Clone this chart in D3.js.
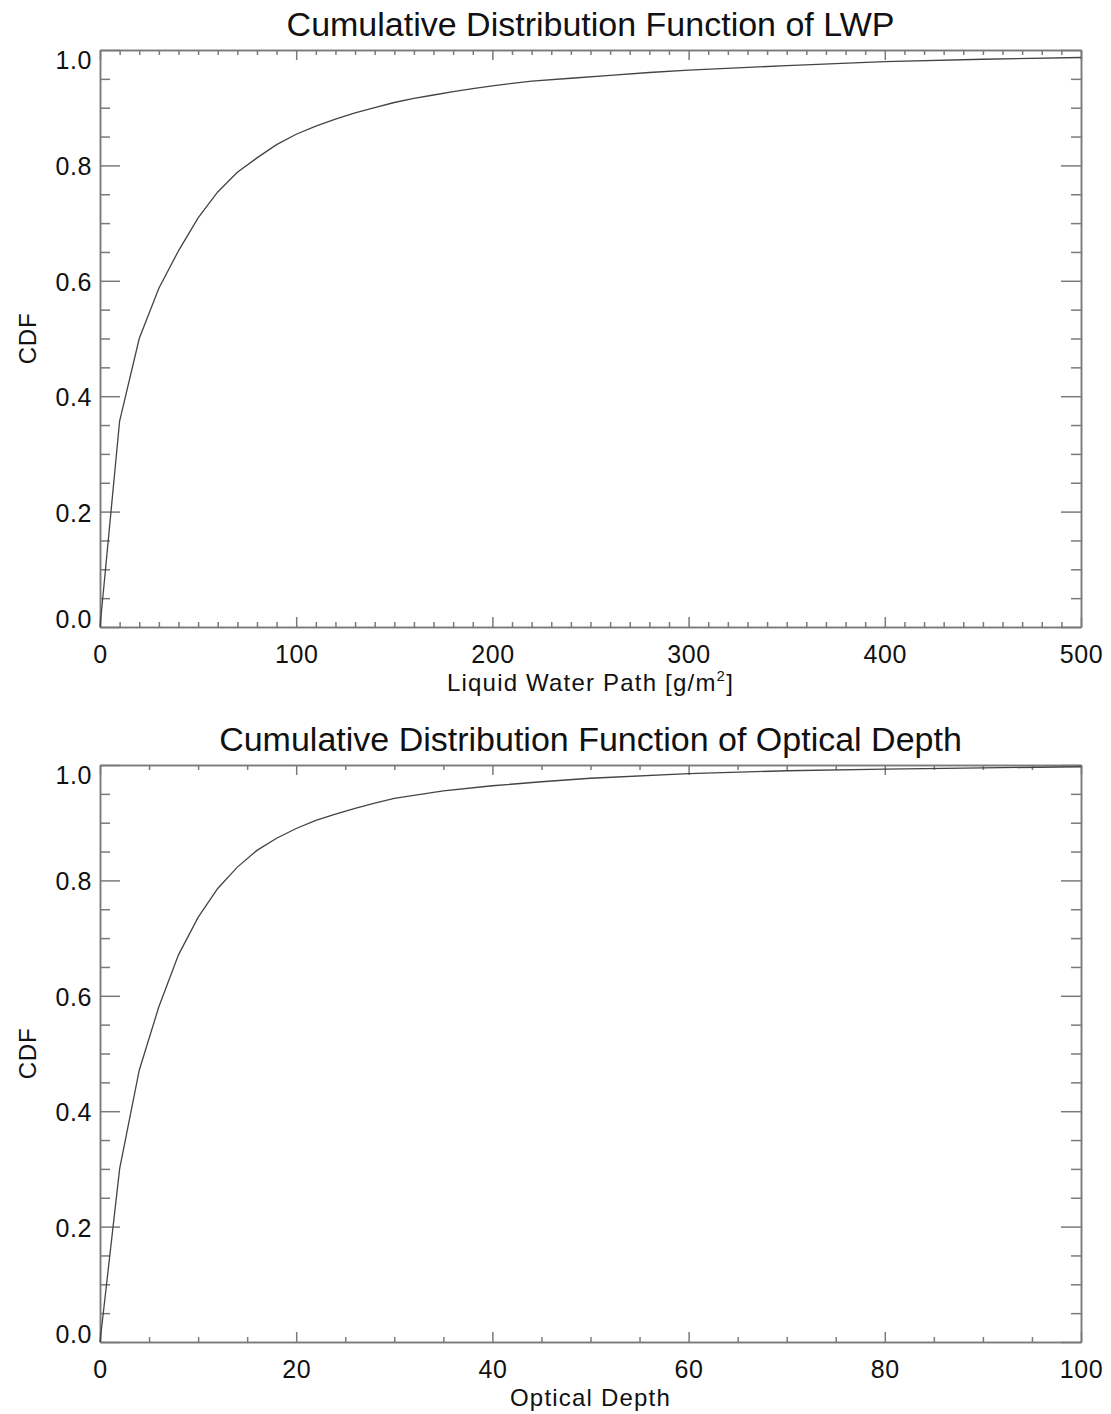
<!DOCTYPE html>
<html>
<head>
<meta charset="utf-8">
<script src="https://cdn.jsdelivr.net/npm/d3@7"></script>
<style>
  body { margin: 0; background: #fff; }
  text { font-family: "Liberation Sans", Arial, Helvetica, sans-serif; fill: #111; }
</style>
</head>
<body>
<div id="chart"></div>
<script>
// LWP cumulative distribution (g/m2 vs CDF)
const lwpValues = [0, 10, 20, 30, 40, 50, 60, 70, 80, 90, 100, 110, 120, 130, 140, 150,
  160, 170, 180, 190, 200, 220, 240, 260, 280, 300, 350, 400, 450, 500];
const lwpCdf = [0, 0.357, 0.500, 0.587, 0.652, 0.709, 0.754, 0.788, 0.813, 0.836, 0.854,
  0.868, 0.880, 0.891, 0.900, 0.909, 0.916, 0.922, 0.928, 0.933, 0.938, 0.946, 0.951,
  0.956, 0.961, 0.965, 0.973, 0.980, 0.984, 0.987];

// optical depth cumulative distribution
const tauValues = [0, 2, 4, 6, 8, 10, 12, 14, 16, 18, 20, 22, 24, 26, 28, 30, 35, 40, 45,
  50, 60, 70, 80, 90, 100];
const tauCdf = [0, 0.300, 0.471, 0.581, 0.671, 0.736, 0.786, 0.823, 0.852, 0.873, 0.890,
  0.904, 0.915, 0.925, 0.934, 0.942, 0.955, 0.964, 0.971, 0.977, 0.985, 0.990, 0.993,
  0.995, 0.997];

const lwpMajor = [0, 100, 200, 300, 400, 500];
const lwpMinor = d3.range(0, 501, 10);
const tauMajor = [0, 20, 40, 60, 80, 100];
const tauMinor = d3.range(0, 101, 5);
const cdfMajor = [0, 0.2, 0.4, 0.6, 0.8, 1.0];
const cdfMinor = d3.range(0, 1.0001, 0.05);

const W = 1111, H = 1414;
const svg = d3.select("#chart").append("svg")
  .attr("width", W)
  .attr("height", H);

const panels = [
  { top: 50, title: "Cumulative Distribution Function of LWP", xs: lwpValues, ys: lwpCdf,
    xMax: 500, major: lwpMajor, minor: lwpMinor, xlabel: "lwp" },
  { top: 765, title: "Cumulative Distribution Function of Optical Depth", xs: tauValues, ys: tauCdf,
    xMax: 100, major: tauMajor, minor: tauMinor, xlabel: "Optical Depth" }
];

const left = 100, width = 981, height = 577;
const axisColor = "#7a7a7a";

panels.forEach((p) => {
  const g = svg.append("g").attr("transform", `translate(${left},${p.top})`);

  const x = d3.scaleLinear().domain([0, p.xMax]).range([0, width]);
  const y = d3.scaleLinear().domain([0, 1]).range([height, 0]);

  // minor ticks on all four sides
  const minorX = p.minor.filter((v) => !p.major.includes(v));
  const minorY = cdfMinor.filter((v) => !cdfMajor.some((m) => Math.abs(m - v) < 1e-6));

  g.append("g").attr("transform", `translate(0,${height})`)
    .call(d3.axisBottom(x).tickValues(minorX).tickSize(-5).tickSizeOuter(0).tickFormat(""));
  g.append("g")
    .call(d3.axisTop(x).tickValues(minorX).tickSize(-5).tickSizeOuter(0).tickFormat(""));
  g.append("g")
    .call(d3.axisLeft(y).tickValues(minorY).tickSize(-10).tickSizeOuter(0).tickFormat(""));
  g.append("g").attr("transform", `translate(${width},0)`)
    .call(d3.axisRight(y).tickValues(minorY).tickSize(-10).tickSizeOuter(0).tickFormat(""));

  // major ticks
  const xAxis = g.append("g").attr("class", "x-axis")
    .attr("transform", `translate(0,${height})`)
    .call(d3.axisBottom(x).tickValues(p.major).tickSize(-10).tickSizeOuter(0)
      .tickPadding(18).tickFormat(d3.format("d")));
  g.append("g")
    .call(d3.axisTop(x).tickValues(p.major).tickSize(-10).tickSizeOuter(0).tickFormat(""));
  const yAxis = g.append("g").attr("class", "y-axis")
    .call(d3.axisLeft(y).tickValues(cdfMajor).tickSize(-20).tickSizeOuter(0)
      .tickPadding(8).tickFormat(d3.format(".1f")));
  g.append("g").attr("transform", `translate(${width},0)`)
    .call(d3.axisRight(y).tickValues(cdfMajor).tickSize(-20).tickSizeOuter(0).tickFormat(""));

  g.selectAll(".domain, .tick line")
    .attr("stroke", axisColor)
    .attr("stroke-width", 1.5);

  xAxis.selectAll("text")
    .attr("font-size", 25)
    .attr("letter-spacing", "0.6px")
    .attr("fill", "#111");
  yAxis.selectAll("text")
    .attr("font-size", 25)
    .attr("letter-spacing", "0.6px")
    .attr("fill", "#111")
    .attr("dy", (d) => (d === 0 ? "0em" : d === 1 ? "0.72em" : "0.38em"));

  // the curve
  const line = d3.line()
    .x((d, i) => x(p.xs[i]))
    .y((d) => y(d));

  g.append("path")
    .datum(p.ys)
    .attr("fill", "none")
    .attr("stroke", "#444")
    .attr("stroke-width", 1.3)
    .attr("d", line);

  // title
  g.append("text")
    .attr("x", width / 2)
    .attr("y", -14)
    .attr("text-anchor", "middle")
    .attr("font-size", 34)
    .text(p.title);

  // x axis label
  const xl = g.append("text")
    .attr("x", width / 2)
    .attr("y", height + 64)
    .attr("text-anchor", "middle")
    .attr("font-size", 24)
    .attr("letter-spacing", "1.2px");
  if (p.xlabel === "lwp") {
    xl.append("tspan").text("Liquid Water Path [g/m");
    xl.append("tspan").attr("font-size", 15).attr("dy", -10).text("2");
    xl.append("tspan").attr("dy", 10).text("]");
  } else {
    xl.text(p.xlabel);
  }

  // y axis label
  g.append("text")
    .attr("transform", `translate(${36 - left},${height / 2}) rotate(-90)`)
    .attr("text-anchor", "middle")
    .attr("font-size", 24)
    .attr("letter-spacing", "0.8px")
    .text("CDF");
});
</script>
</body>
</html>
